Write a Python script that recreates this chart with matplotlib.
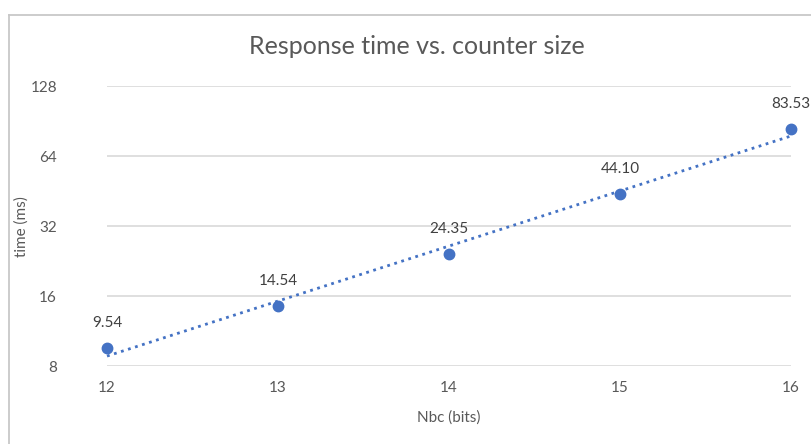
import matplotlib.pyplot as plt
import numpy as np
from matplotlib.lines import Line2D
from matplotlib.ticker import FixedLocator, NullLocator

# counter size (bits) and measured response time (ms)
nbc = [12, 13, 14, 15, 16]
times = [9.54, 14.54, 24.35, 44.10, 83.53]
yticks = [8, 16, 32, 64, 128]

blue = '#4472C4'
grey = '#595959'
plt.rcParams['font.family'] = ['Lato', 'DejaVu Sans']

fig = plt.figure(figsize=(8.11, 4.44), dpi=100)
fig.patch.set_facecolor('white')

# chart frame (top and left edges fall inside the image)
fx, fy = 8.5 / 811, 1 - 15.5 / 444
fig.add_artist(Line2D([fx, 1.0], [fy, fy], transform=fig.transFigure,
                      color='#c8c8c8', linewidth=1.3))
fig.add_artist(Line2D([fx, fx], [0.0, fy], transform=fig.transFigure,
                      color='#c8c8c8', linewidth=1.3))

ax = fig.add_axes([107 / 811, 1 - 366 / 444, 684 / 811, 280 / 444])
ax.set_yscale('log', base=2)
ax.set_xlim(12, 16)
ax.set_ylim(8, 128)

for s in ax.spines.values():
    s.set_visible(False)
ax.yaxis.set_major_locator(FixedLocator(yticks))
ax.yaxis.set_minor_locator(NullLocator())
ax.set_yticklabels([str(v) for v in yticks])
ax.set_xticks(nbc)
ax.tick_params(length=0, colors=grey, labelsize=11)
ax.tick_params(axis='y', pad=36)
ax.tick_params(axis='x', pad=11)
ax.grid(axis='y', color='#d9d9d9', linewidth=1.2)
ax.set_axisbelow(True)

# exponential trendline
coef = np.polyfit(nbc, np.log(times), 1)
xs = np.linspace(12, 16, 100)
ax.plot(xs, np.exp(np.polyval(coef, xs)), ':', color=blue, linewidth=2, clip_on=False)

ax.plot(nbc, times, 'o', color=blue, markersize=7.5, clip_on=False, zorder=3)
for x, t in zip(nbc, times):
    ax.annotate('%.2f' % t, (x, t), xytext=(0, 13), textcoords='offset points',
                ha='center', va='bottom', color='#404040', fontsize=11)

ax.set_xlabel('Nbc (bits)', color=grey, fontsize=11, labelpad=11)
fig.text(22 / 811, 1 - 227 / 444, 'time (ms)', rotation=90, ha='center',
         va='center', color=grey, fontsize=11)
fig.text(0.5 * (249 + 585) / 811, 1 - 47 / 444, 'Response time vs. counter size',
         ha='center', va='center', color=grey, fontsize=18)

plt.savefig('out.png', dpi=100)
